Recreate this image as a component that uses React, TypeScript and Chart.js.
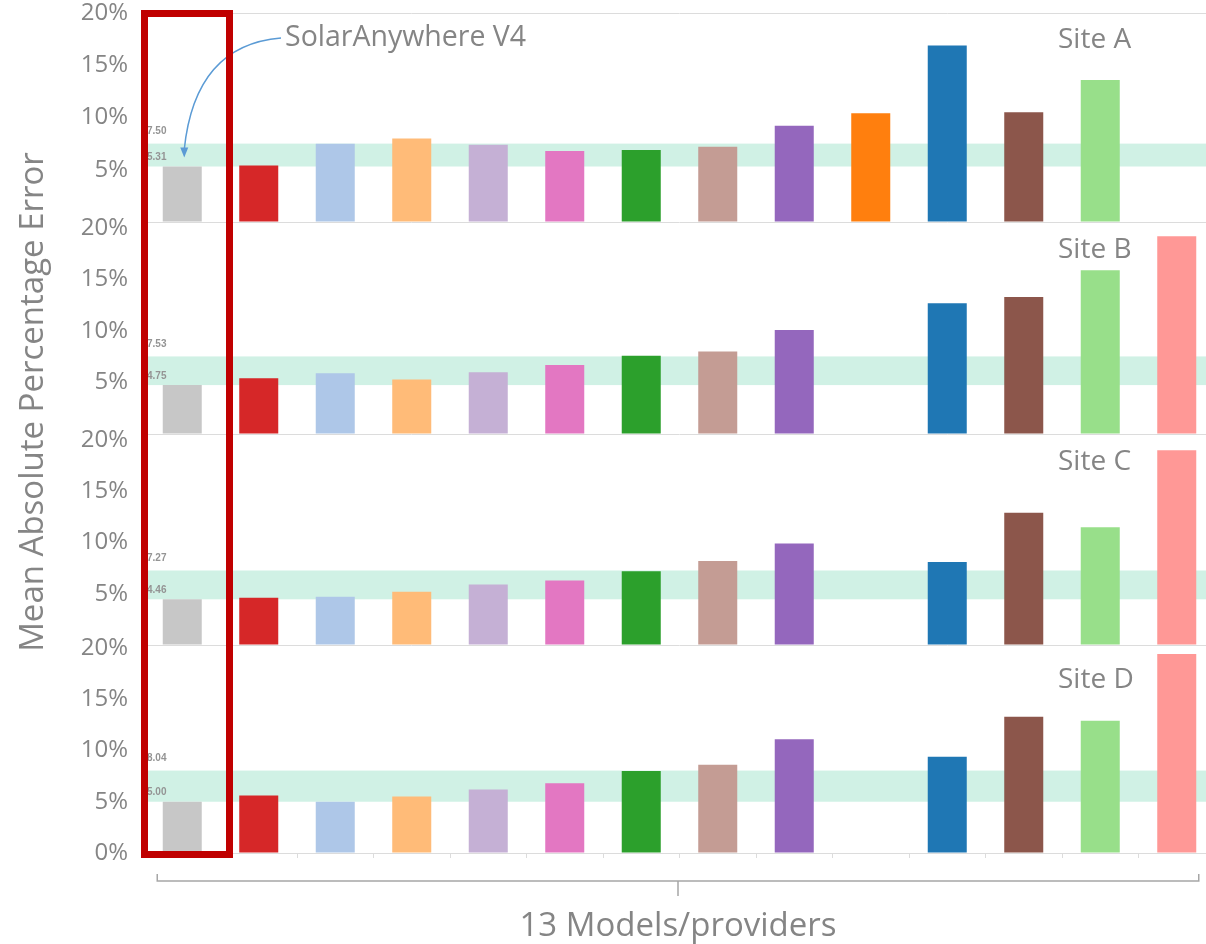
import React, { useEffect, useRef } from "react";
import { Chart, registerables } from "chart.js";

Chart.register(...registerables);

const MODELS = [
  "SolarAnywhere V4", "M2", "M3", "M4", "M5", "M6", "M7",
  "M8", "M9", "M10", "M11", "M12", "M13", "M14",
];
const COLORS = [
  "#c7c7c7", "#d62728", "#aec7e8", "#ffbb78", "#c5b0d5", "#e377c2", "#2ca02c",
  "#c49c94", "#9467bd", "#ff7f0e", "#1f77b4", "#8c564b", "#98df8a", "#ff9896",
];
const SITES = ["Site A", "Site B", "Site C", "Site D"];
const SITE_A = [5.31, 5.4, 7.5, 8.0, 7.4, 6.8, 6.9, 7.2, 9.2, 10.4, 16.9, 10.5, 13.6, null];
const SITE_B = [4.75, 5.4, 5.9, 5.3, 6.0, 6.7, 7.6, 8.0, 10.1, null, 12.7, 13.3, 15.9, 19.2];
const SITE_C = [4.46, 4.6, 4.7, 5.2, 5.9, 6.3, 7.2, 8.2, 9.9, null, 8.1, 12.9, 11.5, 19.0];
const SITE_D = [5.0, 5.6, 5.0, 5.5, 6.2, 6.8, 8.0, 8.6, 11.1, null, 9.4, 13.3, 12.9, 19.4];
const SITE_VALUES = [SITE_A, SITE_B, SITE_C, SITE_D];
const BAND_LOW = [5.31, 4.75, 4.46, 5.0];
const BAND_HIGH = [7.5, 7.53, 7.27, 8.04];
const Y_TICKS = [0, 5, 10, 15, 20];
const AXIS_IDS = ["yA", "yB", "yC", "yD"];
// axis maxima: panels below the first keep a small gap above their 20% line
const AXIS_MAX = [20, 20.58, 20.59, 20.29];
const AXIS_WEIGHT = [209, 212, 211, 208];

const Y_TITLE = "Mean Absolute Percentage Error";
const X_TITLE = "13 Models/providers";
const CALLOUT = "SolarAnywhere V4";

const TEXT_GRAY = "#858585";
const FONT = '"Open Sans", "DejaVu Sans", sans-serif';
const SITE_LABEL_Y = [40, 250, 462, 680];

const overlay = {
  id: "overlay",
  beforeDatasetsDraw(chart: any) {
    const ctx = chart.ctx;
    const { left, right } = chart.chartArea;
    ctx.save();
    AXIS_IDS.forEach((id, i) => {
      const sc = chart.scales[id];
      const yHi = sc.getPixelForValue(BAND_HIGH[i]);
      const yLo = sc.getPixelForValue(BAND_LOW[i]);
      ctx.fillStyle = "rgba(200,238,224,0.85)";
      ctx.fillRect(left, yHi, right - left, yLo - yHi);
      ctx.fillStyle = "#949494";
      ctx.font = 'bold 10px "Liberation Sans", sans-serif';
      ctx.textAlign = "left";
      ctx.textBaseline = "middle";
      ctx.fillText(BAND_HIGH[i].toFixed(2), left + 3, yHi - 12);
      ctx.fillText(BAND_LOW[i].toFixed(2), left + 3, yLo - 9);
    });
    ctx.restore();
  },
  afterDraw(chart: any) {
    const ctx = chart.ctx;
    const xs = chart.scales.x;
    ctx.save();
    // site labels
    ctx.fillStyle = TEXT_GRAY;
    ctx.font = `28px ${FONT}`;
    ctx.textAlign = "left";
    ctx.textBaseline = "middle";
    SITES.forEach((s, i) => ctx.fillText(s, 1058, SITE_LABEL_Y[i]));

    // y title
    ctx.save();
    ctx.translate(34, 402);
    ctx.rotate(-Math.PI / 2);
    ctx.textAlign = "center";
    ctx.font = `33px ${FONT}`;
    ctx.fillText(Y_TITLE, 0, 0);
    ctx.restore();

    // x bracket
    const x0 = xs.getPixelForValue(0) - 25;
    const x1 = xs.getPixelForValue(MODELS.length - 1) + 22;
    const xm = (x0 + x1) / 2;
    const by = 881;
    ctx.strokeStyle = "#a6a6a6";
    ctx.lineWidth = 1.5;
    ctx.beginPath();
    ctx.moveTo(x0, by - 7);
    ctx.lineTo(x0, by);
    ctx.lineTo(x1, by);
    ctx.lineTo(x1, by - 7);
    ctx.moveTo(xm, by);
    ctx.lineTo(xm, by + 15);
    ctx.stroke();
    ctx.textAlign = "center";
    ctx.font = `33px ${FONT}`;
    ctx.fillText(X_TITLE, xm, 927);

    // callout
    ctx.textAlign = "left";
    ctx.font = `28.5px ${FONT}`;
    ctx.fillText(CALLOUT, 285, 38);
    const tipX = xs.getPixelForValue(0) + 2;
    const tipY = chart.scales.yA.getPixelForValue(SITE_A[0] as number) - 9;
    ctx.strokeStyle = "#5b9bd5";
    ctx.lineWidth = 1.5;
    ctx.beginPath();
    ctx.moveTo(281, 38);
    ctx.quadraticCurveTo(195, 45, tipX, tipY - 8);
    ctx.stroke();
    ctx.fillStyle = "#5b9bd5";
    ctx.beginPath();
    ctx.moveTo(tipX - 4, tipY - 10);
    ctx.lineTo(tipX + 4, tipY - 10);
    ctx.lineTo(tipX, tipY);
    ctx.closePath();
    ctx.fill();

    // red highlight box
    ctx.strokeStyle = "#c00000";
    ctx.lineWidth = 7;
    ctx.strokeRect(144.5, 13.5, 85, 841);
    ctx.restore();
  },
};

export default function App() {
  const ref = useRef<HTMLCanvasElement>(null);
  useEffect(() => {
    if (!ref.current) return;
    const yScale = (i: number) => ({
      type: "linear",
      position: "left",
      stack: "sites",
      stackWeight: AXIS_WEIGHT[i],
      min: 0,
      max: AXIS_MAX[i],
      afterBuildTicks: (s: any) => {
        s.ticks = Y_TICKS.map((v) => ({ value: v }));
      },
      afterFit: (s: any) => {
        s.width = 144;
        s.paddingTop = 0;
        s.paddingBottom = 0;
      },
      border: { display: false },
      grid: {
        drawTicks: false,
        color: (c: any) =>
          c.tick && (c.tick.value === 0 || (i === 0 && c.tick.value === 20))
            ? "#dcdcdc"
            : "rgba(0,0,0,0)",
      },
      ticks: {
        autoSkip: false,
        padding: 16,
        color: TEXT_GRAY,
        font: { size: 24, family: FONT },
        callback: (v: any) => (v === 0 && i < 3 ? "" : `${v}%`),
      },
    });
    const scales: any = {
      x: {
        type: "category",
        offset: true,
        afterFit: (s: any) => {
          s.height = 91;
          s.paddingLeft = 0;
          s.paddingRight = 0;
        },
        grid: {
          offset: true,
          drawOnChartArea: false,
          drawTicks: true,
          tickLength: 5,
          color: "#dcdcdc",
        },
        border: { display: true, color: "#dcdcdc" },
        ticks: { display: false },
      },
    };
    // stacked axes are laid out bottom-up, so insert the bottom panel first
    for (let i = AXIS_IDS.length - 1; i >= 0; i--) scales[AXIS_IDS[i]] = yScale(i);
    const chart = new Chart(ref.current, {
      type: "bar",
      data: {
        labels: MODELS,
        datasets: SITE_VALUES.map((vals, i) => ({
          label: SITES[i],
          data: vals,
          yAxisID: AXIS_IDS[i],
          backgroundColor: COLORS,
          grouped: false,
          barPercentage: 0.51,
          categoryPercentage: 1,
        })),
      } as any,
      options: {
        responsive: false,
        animation: false,
        devicePixelRatio: 1,
        layout: { padding: { top: 13, left: 0, right: 0, bottom: 0 } },
        plugins: { legend: { display: false }, tooltip: { enabled: false } },
        scales,
      } as any,
      plugins: [overlay],
    });
    return () => chart.destroy();
  }, []);
  return (
    <div
      style={{
        position: "absolute",
        left: 0,
        top: 0,
        width: 1206,
        height: 944,
        overflow: "hidden",
        background: "#fff",
      }}
    >
      <canvas ref={ref} width={1215} height={944} style={{ display: "block" }} />
    </div>
  );
}
